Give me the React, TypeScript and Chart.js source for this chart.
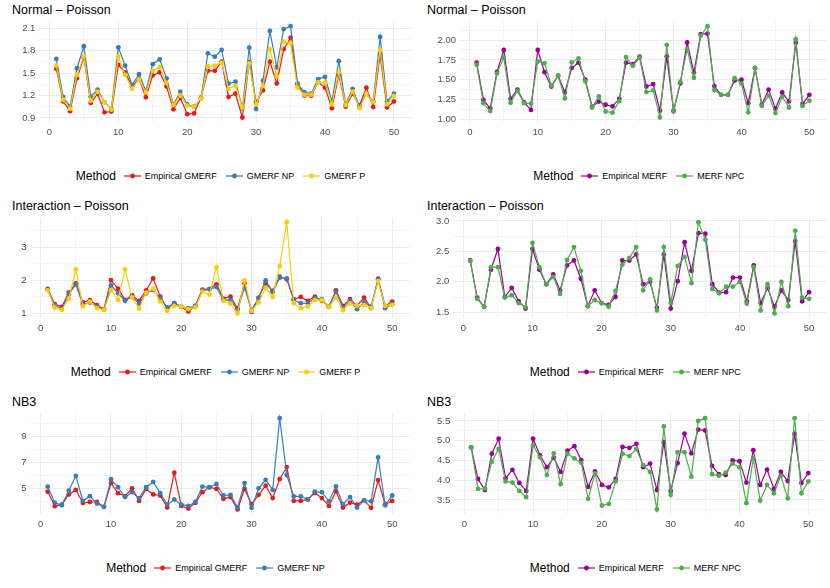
import React, { useEffect, useRef } from "react";
import { Chart, registerables } from "chart.js";

Chart.register(...registerables);

// ---------- data ----------
const runIndex = [
  1, 2, 3, 4, 5, 6, 7, 8, 9, 10, 11, 12, 13, 14, 15, 16, 17, 18, 19, 20, 21, 22, 23, 24, 25,
  26, 27, 28, 29, 30, 31, 32, 33, 34, 35, 36, 37, 38, 39, 40, 41, 42, 43, 44, 45, 46, 47, 48, 49, 50,
];
const xTickValues = [0, 10, 20, 30, 40, 50];

// Normal – Poisson (GMERF)
const normalEmpGMERF = [
  1.56, 1.12, 0.99, 1.43, 1.71, 1.1, 1.22, 0.975, 0.985, 1.61, 1.51, 1.32, 1.43, 1.175, 1.47, 1.51, 1.32, 1.015, 1.17, 0.95,
  0.96, 1.17, 1.53, 1.53, 1.655, 1.18, 1.225, 0.905, 1.645, 1.11, 1.27, 1.655, 1.36, 1.82, 1.975, 1.355, 1.2, 1.195, 1.38, 1.305,
  1.03, 1.475, 1.05, 1.225, 1.065, 1.305, 1.045, 1.745, 1.04, 1.12,
];
const normalGMERFNP = [
  1.69, 1.18, 1.05, 1.565, 1.86, 1.185, 1.28, 1.11, 1.02, 1.845, 1.6, 1.34, 1.485, 1.26, 1.62, 1.685, 1.43, 1.08, 1.25, 1.08,
  1.05, 1.16, 1.765, 1.72, 1.81, 1.36, 1.385, 1.03, 1.84, 1.02, 1.4, 2.065, 1.575, 2.09, 2.13, 1.36, 1.245, 1.225, 1.42, 1.45,
  1.12, 1.66, 1.08, 1.29, 1.05, 1.22, 1.12, 1.985, 1.12, 1.225,
];
const normalGMERFP = [
  1.6, 1.14, 1.02, 1.475, 1.725, 1.13, 1.25, 1.11, 1.01, 1.72, 1.475, 1.29, 1.42, 1.24, 1.53, 1.58, 1.37, 1.07, 1.2, 1.065,
  1.05, 1.16, 1.59, 1.6, 1.64, 1.29, 1.33, 1.04, 1.63, 1.08, 1.33, 1.82, 1.455, 1.92, 1.9, 1.305, 1.21, 1.21, 1.38, 1.37,
  1.08, 1.51, 1.07, 1.25, 1.03, 1.22, 1.11, 1.81, 1.08, 1.195,
];
// Normal – Poisson (MERF)
const normalEmpMERF = [
  1.715, 1.245, 1.14, 1.6, 1.875, 1.26, 1.375, 1.215, 1.12, 1.875, 1.595, 1.415, 1.55, 1.34, 1.65, 1.715, 1.5, 1.16, 1.225, 1.185,
  1.165, 1.26, 1.715, 1.695, 1.79, 1.415, 1.445, 1.11, 1.795, 1.11, 1.455, 1.97, 1.59, 2.075, 2.08, 1.42, 1.31, 1.31, 1.49, 1.5,
  1.205, 1.645, 1.185, 1.375, 1.135, 1.34, 1.225, 1.965, 1.195, 1.31,
];
const normalMERFNPC = [
  1.69, 1.205, 1.105, 1.58, 1.78, 1.21, 1.36, 1.205, 1.2, 1.73, 1.71, 1.425, 1.55, 1.265, 1.72, 1.77, 1.48, 1.15, 1.29, 1.1,
  1.085, 1.23, 1.785, 1.675, 1.78, 1.345, 1.365, 1.025, 1.94, 1.1, 1.475, 1.885, 1.525, 2.055, 2.175, 1.37, 1.31, 1.31, 1.52, 1.45,
  1.09, 1.645, 1.17, 1.3, 1.08, 1.285, 1.15, 2.01, 1.17, 1.235,
];
// Interaction – Poisson (GMERF)
const interEmpGMERF = [
  1.74, 1.28, 1.2, 1.63, 1.91, 1.33, 1.4, 1.25, 1.13, 2.01, 1.75, 1.41, 1.55, 1.38, 1.7, 2.06, 1.51, 1.15, 1.31, 1.2,
  1.06, 1.23, 1.72, 1.74, 1.88, 1.45, 1.51, 1.15, 1.91, 1.05, 1.48, 1.91, 1.68, 2.11, 2.03, 1.43, 1.5, 1.38, 1.51, 1.38,
  1.2, 1.7, 1.23, 1.43, 1.23, 1.48, 1.16, 2.05, 1.23, 1.36,
];
const interGMERFNP = [
  1.71, 1.25, 1.13, 1.58, 1.88, 1.26, 1.33, 1.2, 1.11, 1.85, 1.61, 1.38, 1.51, 1.3, 1.61, 1.71, 1.45, 1.18, 1.31, 1.2,
  1.16, 1.23, 1.69, 1.73, 1.8, 1.4, 1.41, 1.11, 1.78, 1.1, 1.46, 2.0, 1.65, 2.08, 2.06, 1.41, 1.31, 1.3, 1.46, 1.43,
  1.2, 1.65, 1.17, 1.38, 1.13, 1.33, 1.21, 2.03, 1.16, 1.28,
];
const interGMERFP = [
  1.7, 1.18, 1.11, 1.45, 2.33, 1.21, 1.36, 1.16, 1.11, 1.7, 1.41, 2.33, 1.48, 1.15, 1.63, 1.75, 1.36, 1.08, 1.23, 1.21,
  1.13, 1.18, 1.66, 1.57, 2.4, 1.38, 1.3, 1.0, 2.0, 1.08, 1.33, 1.78, 1.5, 2.43, 3.76, 1.31, 1.16, 1.21, 1.4, 1.4,
  1.2, 1.48, 1.1, 1.3, 1.23, 1.25, 1.16, 1.98, 1.23, 1.26,
];
// Interaction – Poisson (MERF)
const interEmpMERF = [
  2.35, 1.74, 1.59, 2.2, 2.54, 1.75, 1.9, 1.68, 1.56, 2.54, 2.2, 1.96, 2.12, 1.86, 2.27, 2.35, 2.05, 1.6, 1.86, 1.65,
  1.62, 1.75, 2.35, 2.35, 2.45, 1.96, 2.0, 1.57, 2.45, 1.56, 2.01, 2.65, 2.18, 2.8, 2.79, 1.96, 1.82, 1.83, 2.07, 2.07,
  1.68, 2.27, 1.65, 1.9, 1.59, 1.86, 1.7, 2.67, 1.68, 1.83,
];
const interMERFNPC = [
  2.34, 1.72, 1.59, 2.24, 2.24, 1.74, 1.78, 1.65, 1.58, 2.64, 2.24, 1.96, 2.08, 1.8, 2.36, 2.57, 2.18, 1.6, 1.7, 1.65,
  1.59, 1.85, 2.28, 2.39, 2.57, 1.86, 2.04, 1.53, 2.57, 1.65, 2.26, 2.41, 1.98, 2.98, 2.69, 1.88, 1.81, 1.92, 1.92, 2.0,
  1.64, 2.24, 1.53, 1.96, 1.48, 2.0, 1.6, 2.84, 1.74, 1.72,
];
// NB3 (GMERF)
const nb3EmpGMERF = [
  4.75, 3.63, 3.75, 4.53, 4.88, 3.88, 3.95, 3.95, 3.58, 5.4, 4.63, 4.4, 5.0, 4.03, 4.95, 4.53, 4.45, 3.53, 6.2, 3.65,
  3.45, 3.88, 4.7, 5.08, 4.95, 4.2, 4.33, 3.38, 4.95, 3.78, 4.5, 5.2, 4.25, 5.7, 6.63, 4.03, 4.03, 4.15, 4.65, 4.25,
  3.65, 4.78, 3.53, 3.9, 3.75, 4.08, 3.5, 5.63, 3.78, 4.03,
];
const nb3GMERFNP = [
  5.13, 3.9, 3.7, 4.83, 5.95, 4.03, 4.4, 3.83, 3.58, 5.7, 5.08, 4.33, 4.7, 4.25, 5.08, 5.5, 4.63, 3.75, 4.15, 3.75,
  3.65, 3.95, 5.13, 5.08, 5.33, 4.45, 4.5, 3.53, 5.4, 3.5, 5.0, 5.65, 4.88, 10.38, 6.03, 4.38, 4.38, 4.15, 4.75, 4.7,
  4.0, 5.15, 3.78, 4.33, 3.53, 4.08, 4.0, 7.38, 3.7, 4.45,
];
// NB3 (MERF)
const nb3EmpMERF = [
  4.83, 4.03, 3.75, 4.67, 5.05, 4.05, 4.26, 3.93, 3.73, 5.05, 4.63, 4.33, 4.57, 4.21, 4.75, 4.86, 4.51, 3.83, 4.22, 3.88,
  3.82, 4.03, 4.84, 4.82, 4.92, 4.33, 4.42, 3.75, 4.96, 3.73, 4.43, 5.18, 4.68, 5.28, 5.26, 4.36, 4.15, 4.13, 4.5, 4.48,
  3.94, 4.76, 3.88, 4.27, 3.78, 4.21, 3.98, 5.17, 3.93, 4.18,
];
const nb3MERFNPC = [
  4.83, 3.78, 3.79, 4.47, 4.79, 3.97, 3.94, 3.73, 3.57, 4.88, 4.58, 4.13, 4.68, 3.9, 4.67, 4.55, 4.44, 3.53, 4.17, 3.36,
  3.4, 3.97, 4.67, 4.61, 4.79, 4.38, 4.21, 3.26, 5.36, 3.63, 4.71, 4.71, 4.09, 5.5, 5.57, 4.15, 4.11, 4.19, 4.42, 4.33,
  3.42, 4.55, 3.48, 3.88, 3.67, 4.11, 3.54, 5.57, 3.67, 3.97,
];

// y tick labels per panel
const yTicksNormalG = [0.9, 1.2, 1.5, 1.8, 2.1];
const yLabelsNormalG = ["0.9", "1.2", "1.5", "1.8", "2.1"];
const yTicksNormalM = [1.0, 1.25, 1.5, 1.75, 2.0];
const yLabelsNormalM = ["1.00", "1.25", "1.50", "1.75", "2.00"];
const yTicksInterG = [1, 2, 3];
const yLabelsInterG = ["1", "2", "3"];
const yTicksInterM = [1.5, 2.0, 2.5, 3.0];
const yLabelsInterM = ["1.5", "2.0", "2.5", "3.0"];
const yTicksNb3G = [5, 7, 9];
const yLabelsNb3G = ["5", "7", "9"];
const yTicksNb3M = [3.5, 4.0, 4.5, 5.0, 5.5];
const yLabelsNb3M = ["3.5", "4.0", "4.5", "5.0", "5.5"];

const titles = ["Normal – Poisson", "Normal – Poisson", "Interaction – Poisson", "Interaction – Poisson", "NB3", "NB3"];
const legendTitle = "Method";

// ---------- styles ----------
const RED = "#E41A1C";
const BLUE = "#377EB8";
const GOLD = "#FFCC00";
const PURPLE = "#990099";
const GREEN = "#4DAF4A";
const FONT = "'Liberation Sans', Arial, sans-serif";
const PANEL_W = 415;
const ROW_H = 196;
const CANVAS_H = 142;
const PLOT_TOP = 21.6;

type Series = { name: string; color: string; data: number[] };
type Panel = {
  title: string;
  series: Series[];
  yMin: number;
  yMax: number;
  yTicks: number[];
  yLabels: string[];
  yMinor: number[];
  plotLeft: number;
  plotRight: number;
};

const panels: Panel[] = [
  {
    title: titles[0],
    series: [
      { name: "Empirical GMERF", color: RED, data: normalEmpGMERF },
      { name: "GMERF NP", color: BLUE, data: normalGMERFNP },
      { name: "GMERF P", color: GOLD, data: normalGMERFP },
    ],
    yMin: 0.845, yMax: 2.19, yTicks: yTicksNormalG, yLabels: yLabelsNormalG,
    yMinor: [1.05, 1.35, 1.65, 1.95], plotLeft: 39.4, plotRight: 410.8,
  },
  {
    title: titles[1],
    series: [
      { name: "Empirical MERF", color: PURPLE, data: normalEmpMERF },
      { name: "MERF NPC", color: GREEN, data: normalMERFNPC },
    ],
    yMin: 0.9675, yMax: 2.2325, yTicks: yTicksNormalM, yLabels: yLabelsNormalM,
    yMinor: [1.125, 1.375, 1.625, 1.875, 2.125], plotLeft: 45, plotRight: 411.7,
  },
  {
    title: titles[2],
    series: [
      { name: "Empirical GMERF", color: RED, data: interEmpGMERF },
      { name: "GMERF NP", color: BLUE, data: interGMERFNP },
      { name: "GMERF P", color: GOLD, data: interGMERFP },
    ],
    yMin: 0.862, yMax: 3.898, yTicks: yTicksInterG, yLabels: yLabelsInterG,
    yMinor: [1.5, 2.5, 3.5], plotLeft: 30.5, plotRight: 409.4,
  },
  {
    title: titles[3],
    series: [
      { name: "Empirical MERF", color: PURPLE, data: interEmpMERF },
      { name: "MERF NPC", color: GREEN, data: interMERFNPC },
    ],
    yMin: 1.405, yMax: 3.055, yTicks: yTicksInterM, yLabels: yLabelsInterM,
    yMinor: [1.75, 2.25, 2.75], plotLeft: 38.3, plotRight: 411.3,
  },
  {
    title: titles[4],
    series: [
      { name: "Empirical GMERF", color: RED, data: nb3EmpGMERF },
      { name: "GMERF NP", color: BLUE, data: nb3GMERFNP },
    ],
    yMin: 3.03, yMax: 10.73, yTicks: yTicksNb3G, yLabels: yLabelsNb3G,
    yMinor: [4, 6, 8, 10], plotLeft: 30.5, plotRight: 409.4,
  },
  {
    title: titles[5],
    series: [
      { name: "Empirical MERF", color: PURPLE, data: nb3EmpMERF },
      { name: "MERF NPC", color: GREEN, data: nb3MERFNPC },
    ],
    yMin: 3.145, yMax: 5.685, yTicks: yTicksNb3M, yLabels: yLabelsNb3M,
    yMinor: [3.25, 3.75, 4.25, 4.75, 5.25], plotLeft: 39.3, plotRight: 410.2,
  },
];

const isIn = (arr: number[], v: number) => arr.some((a) => Math.abs(a - v) < 1e-6);

function PanelChart({ panel, col, row }: { panel: Panel; col: number; row: number }) {
  const ref = useRef<HTMLCanvasElement | null>(null);

  useEffect(() => {
    if (!ref.current) return;
    const p = panel;
    const chart = new Chart(ref.current, {
      type: "line",
      data: {
        datasets: p.series.map((s, i) => ({
          label: s.name,
          data: runIndex.map((x, k) => ({ x, y: s.data[k] })),
          borderColor: s.color,
          backgroundColor: s.color,
          pointBackgroundColor: s.color,
          pointBorderColor: s.color,
          borderWidth: 1.2,
          pointRadius: 2.4,
          pointBorderWidth: 0,
          tension: 0,
          order: -i,
        })),
      },
      options: {
        animation: false,
        responsive: false,
        maintainAspectRatio: false,
        layout: { padding: { top: PLOT_TOP, right: PANEL_W - p.plotRight, left: 0, bottom: 0 } },
        plugins: { legend: { display: false }, title: { display: false }, tooltip: { enabled: false } },
        scales: {
          x: {
            type: "linear",
            min: -1.45,
            max: 52.45,
            afterBuildTicks: (scale: any) => {
              const t: number[] = [];
              for (const v of xTickValues) t.push(v);
              for (const v of [5, 15, 25, 35, 45]) t.push(v);
              t.sort((a, b) => a - b);
              scale.ticks = t.map((value) => ({ value }));
            },
            afterFit: (scale: any) => {
              scale.height = CANVAS_H - 122;
            },
            ticks: {
              autoSkip: false,
              maxRotation: 0,
              padding: 5,
              color: "#4D4D4D",
              font: { family: FONT, size: 9.5 },
              callback: (v: any) => (isIn(xTickValues, Number(v)) ? String(v) : ""),
            },
            grid: {
              drawTicks: false,
              color: (ctx: any) => (ctx.tick && isIn(xTickValues, ctx.tick.value) ? "#EBEBEB" : "#F4F4F4"),
              lineWidth: 1,
            },
            border: { display: false },
          },
          y: {
            type: "linear",
            min: p.yMin,
            max: p.yMax,
            afterBuildTicks: (scale: any) => {
              const t = [...p.yTicks, ...p.yMinor].sort((a, b) => a - b);
              scale.ticks = t.map((value) => ({ value }));
            },
            afterFit: (scale: any) => {
              scale.width = p.plotLeft;
            },
            ticks: {
              autoSkip: false,
              padding: 4,
              color: "#4D4D4D",
              font: { family: FONT, size: 9.5 },
              callback: (v: any) => {
                const idx = p.yTicks.findIndex((a) => Math.abs(a - Number(v)) < 1e-6);
                return idx >= 0 ? p.yLabels[idx] : "";
              },
            },
            grid: {
              drawTicks: false,
              color: (ctx: any) => (ctx.tick && isIn(p.yTicks, ctx.tick.value) ? "#EBEBEB" : "#F4F4F4"),
              lineWidth: 1,
            },
            border: { display: false },
          },
        },
      } as any,
    });
    return () => chart.destroy();
  }, [panel]);

  const left = col * PANEL_W;
  const top = row * ROW_H;
  return (
    <div style={{ position: "absolute", left, top, width: PANEL_W, height: ROW_H }}>
      <div
        style={{
          position: "absolute",
          left: 12,
          top: 2,
          fontFamily: FONT,
          fontSize: 12.5,
          color: "#000",
          whiteSpace: "nowrap",
          lineHeight: "16px",
        }}
      >
        {panel.title}
      </div>
      <canvas ref={ref} width={PANEL_W} height={CANVAS_H} style={{ position: "absolute", left: 0, top: 0 }} />
      <div
        style={{
          position: "absolute",
          left: panel.plotLeft,
          width: panel.plotRight - panel.plotLeft,
          top: 168,
          height: 16,
          display: "flex",
          justifyContent: "center",
          alignItems: "center",
          fontFamily: FONT,
          whiteSpace: "nowrap",
        }}
      >
        <span style={{ fontSize: 12, color: "#000", marginRight: 8 }}>{legendTitle}</span>
        {panel.series.map((s) => (
          <span key={s.name} style={{ display: "inline-flex", alignItems: "center", marginRight: 9 }}>
            <svg width={17} height={10} style={{ display: "block" }}>
              <line x1={0} y1={5} x2={17} y2={5} stroke={s.color} strokeWidth={1.2} />
              <circle cx={8.5} cy={5} r={2.4} fill={s.color} />
            </svg>
            <span style={{ fontSize: 9, color: "#000", marginLeft: 4 }}>{s.name}</span>
          </span>
        ))}
      </div>
    </div>
  );
}

export default function App() {
  return (
    <div
      style={{
        position: "fixed",
        left: 0,
        top: 0,
        width: 830,
        height: 588,
        background: "#fff",
        overflow: "hidden",
      }}
    >
      {panels.map((p, i) => (
        <PanelChart key={i} panel={p} col={i % 2} row={Math.floor(i / 2)} />
      ))}
    </div>
  );
}
